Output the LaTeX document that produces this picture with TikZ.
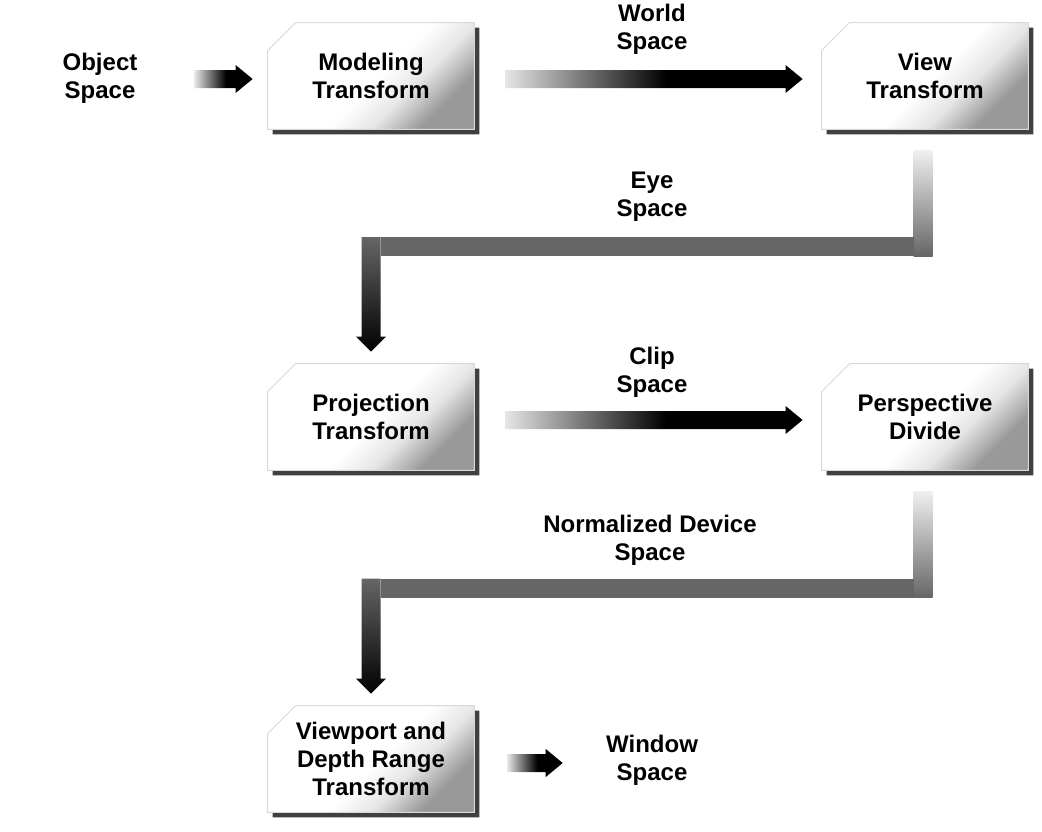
\documentclass[tikz,border=0pt]{standalone}
\usepackage{fontspec}
\setmainfont{Liberation Sans}
\usetikzlibrary{calc}

\pgfdeclarelayer{paper}
\pgfdeclarelayer{boxes}
\pgfsetlayers{paper,boxes,main}

\pgfdeclarehorizontalshading{fadein}{100bp}{color(0bp)=(black!10); color(25bp)=(black!10); color(52bp)=(black); color(100bp)=(black)}
\pgfdeclareverticalshading{stagefade}{100bp}{color(0bp)=(black!40); color(27bp)=(black!40); color(38bp)=(black!10); color(48bp)=(white); color(100bp)=(white)}

% straight arrow: start node, gap, end node, gap
\newcommand\fadearrow[4]{%
  \path ($(#1)+(#2,0)$) coordinate (fs) ($(#3)+(-#4,3)$) coordinate (ft);
  \path (fs |- ft) coordinate (fb);
  \shade[shading=fadein] ($(fb)+(0,-9)$) -- ($(ft)+(-17,-9)$) -- ($(ft)+(-17,-14)$) -- (ft)
    -- ($(ft)+(-17,14)$) -- ($(ft)+(-17,9)$) -- ($(fb)+(0,9)$) -- cycle;
}

% bent arrow from one row down to the next
\newcommand\elbowarrow[2]{%
  \coordinate (e1) at ($(#1.south)+(-2,21)$);
  \coordinate (m) at ($(#1.south)!0.5!(#2.north)$);
  \coordinate (e2) at (e1 |- m);
  \coordinate (e3) at (#2.north |- m);
  \coordinate (e4) at ($(#2.north)+(0,-12)$);
  \shade[top color=black!6, bottom color=black!60] ($(e1)+(-9.5,0)$) rectangle ($(e2)+(9.5,9.5)$);
  \fill[black!60] ($(e3)+(9.5,-9.5)$) rectangle ($(e2)+(-9.5,9.5)$);
  \shade[top color=black!60, bottom color=black] ($(e3)+(-9.5,-9.5)$) -- ($(e3)+(9.5,-9.5)$)
    -- ($(e4)+(9.5,-15)$) -- ($(e4)+(15,-15)$) -- (e4) -- ($(e4)+(-15,-15)$)
    -- ($(e4)+(-9.5,-15)$) -- cycle;
}

\begin{document}
\begin{tikzpicture}[x=0.5pt,y=-0.5pt,
  stagebox/.style={minimum width=103pt,minimum height=53pt,inner sep=0pt,align=center,
    font=\bfseries\fontsize{12}{14}\selectfont},
  spacename/.style={inner sep=0pt,align=center,font=\bfseries\fontsize{12}{14}\selectfont}]

\begin{pgfonlayer}{paper}
  \fill[white] (0,0) rectangle (1042,831);
\end{pgfonlayer}

\node[spacename] (objsp) at (100,78) {Object\\Space};
\node[stagebox] (model) at (371,76) {Modeling\\Transform};
\node[spacename] (world) at (652,29) {World\\Space};
\node[stagebox] (view) at (925,76) {View\\Transform};
\node[spacename] (eye) at (652,197) {Eye\\Space};
\node[stagebox] (proj) at (371,417) {Projection\\Transform};
\node[spacename] (clip) at (652,372) {Clip\\Space};
\node[stagebox] (persp) at (925,417) {Perspective\\Divide};
\node[spacename] (ndc) at (650,540) {Normalized Device\\Space};
\node[stagebox] (port) at (371,759) {Viewport and\\Depth Range\\Transform};
\node[spacename] (window) at (652,760) {Window\\Space};

\begin{pgfonlayer}{boxes}
\foreach \n in {model,view,proj,persp,port}{
  \fill[black!75] ($(\n.north west)+(5,33)$) -- ($(\n.north west)+(33,5)$) -- ($(\n.north east)+(5,5)$)
    -- ($(\n.south east)+(5,5)$) -- ($(\n.south west)+(5,5)$) -- cycle;
  \shade[shading=stagefade,shading angle=45,draw=black!15,line width=0.5pt]
    (\n.south west) -- ($(\n.north west)+(0,28)$) -- ($(\n.north west)+(28,0)$)
    -- (\n.north east) -- (\n.south east) -- cycle;
}
\end{pgfonlayer}

\fadearrow{objsp.east}{57}{model.west}{15}
\fadearrow{model.east}{31}{view.west}{19}
\fadearrow{proj.east}{31}{persp.west}{19}
\fadearrow{port.east}{33}{window.west}{43}

\elbowarrow{view}{proj}
\elbowarrow{persp}{port}

\end{tikzpicture}
\end{document}
